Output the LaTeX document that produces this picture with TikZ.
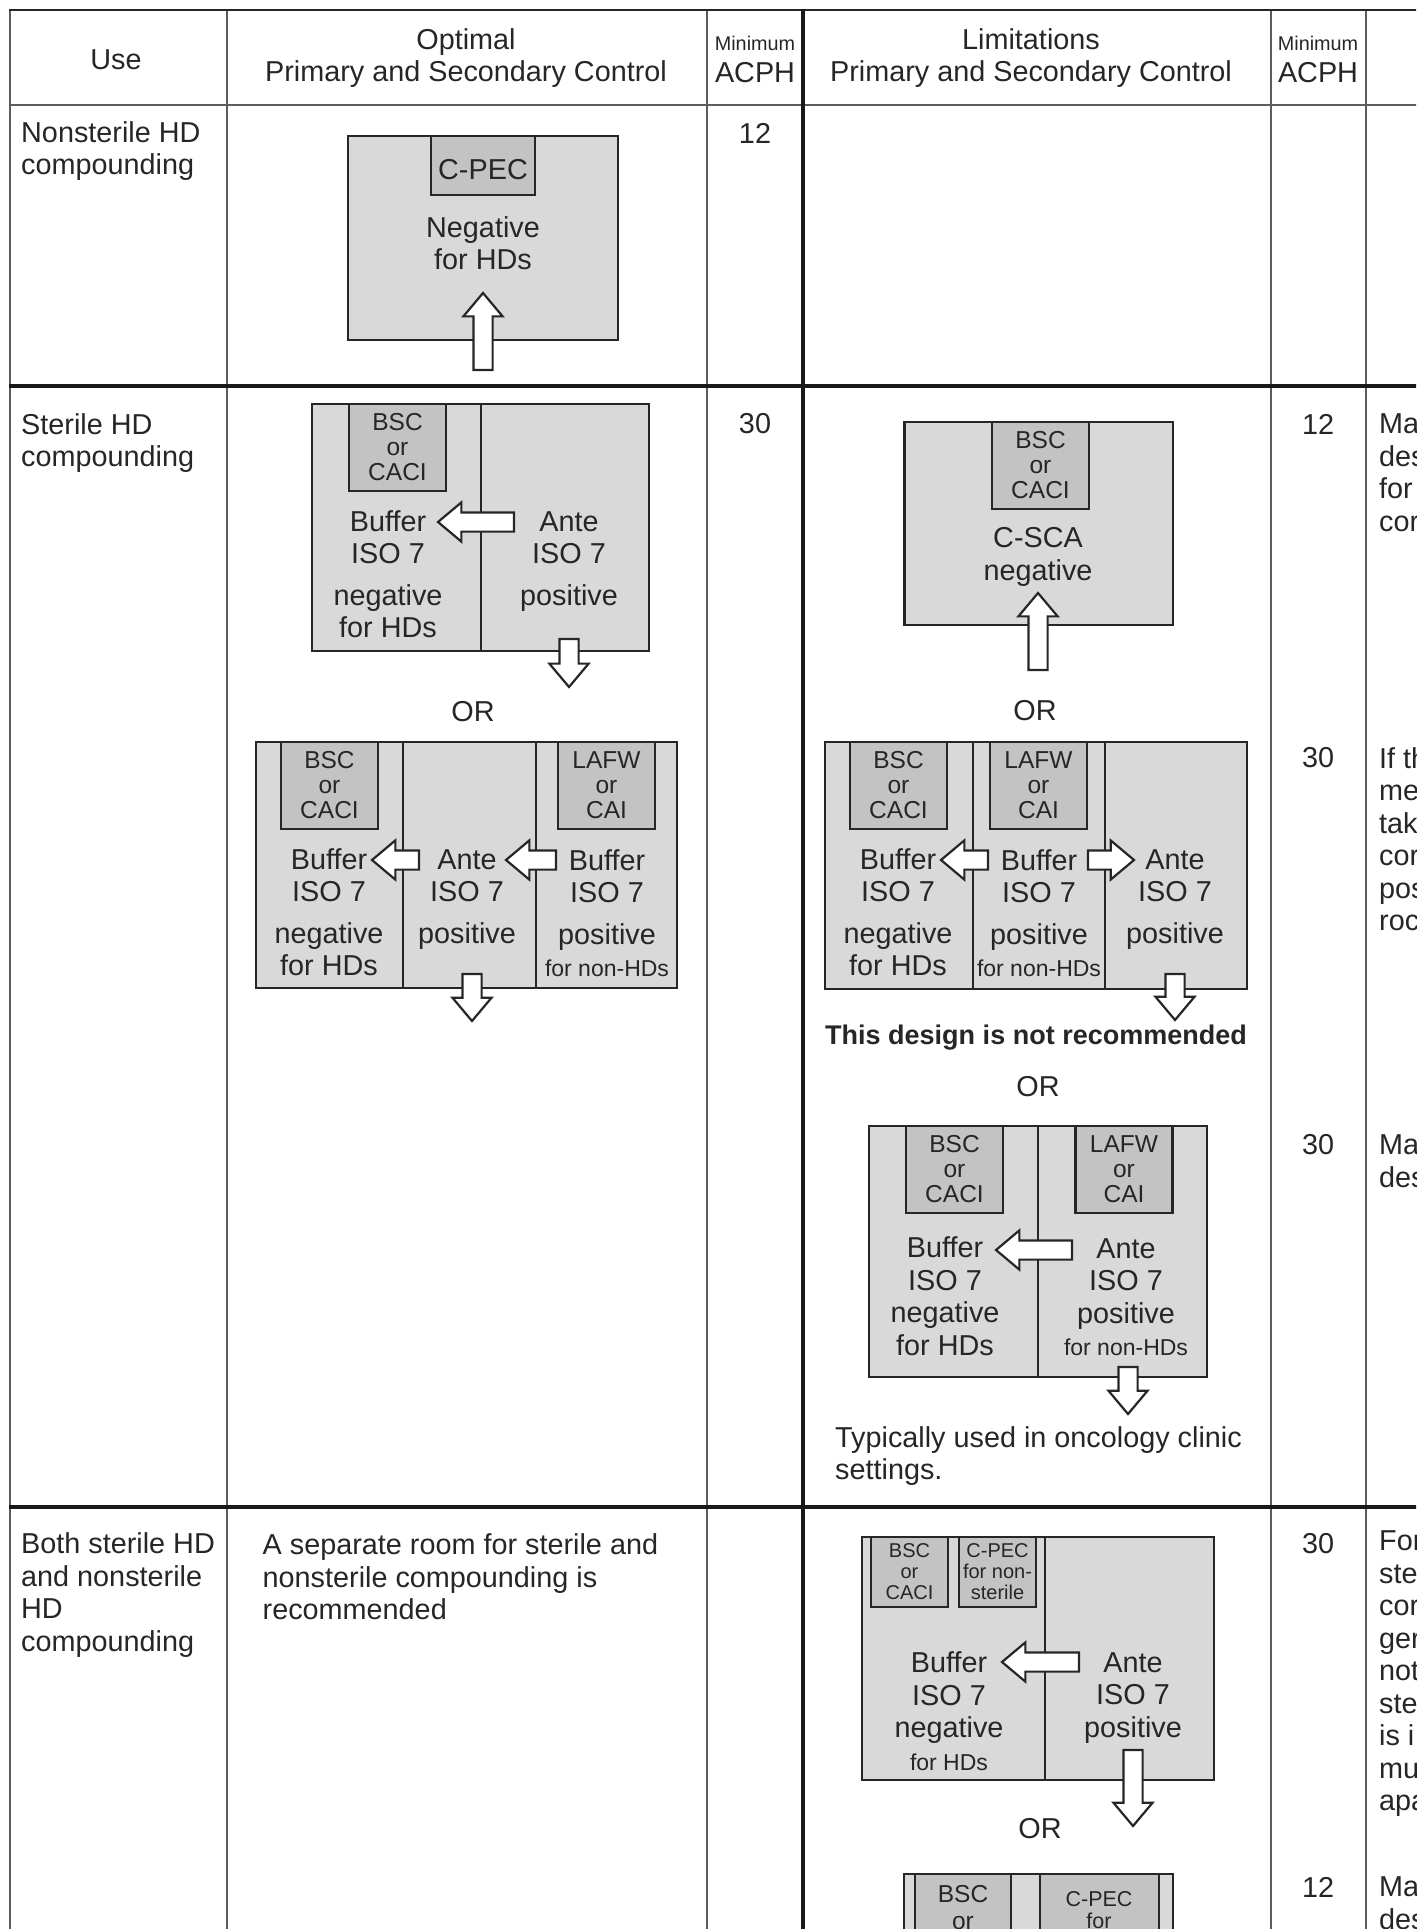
\documentclass[tikz,border=0pt]{standalone}
\usepackage{fontspec}
\setmainfont{Liberation Sans}
\usetikzlibrary{shapes.arrows}
\newcommand{\mainsize}{\fontsize{28.8}{32.5}\selectfont}
\newcommand{\forsize}[1]{{\fontsize{23}{32}\selectfont #1}}
\definecolor{ink}{HTML}{262626}
\definecolor{rule}{HTML}{5C5C5C}
\definecolor{roomfill}{HTML}{D9D9D9}
\definecolor{cabfill}{HTML}{C3C3C3}

\begin{document}
\begin{tikzpicture}[x=1pt, y=-1pt]
	\tikzstyle{room} = [draw=ink, fill=roomfill, line width=2.6pt, outer sep=0pt, inner sep=0pt, anchor=north west];
	\tikzstyle{cab} = [draw=ink, fill=cabfill, line width=2.6pt, outer sep=0pt, inner sep=0pt, anchor=north west, align=center, text=ink, minimum width=97pt, minimum height=87pt, font={\fontsize{24.5}{25}\selectfont}];
	\tikzstyle{wall} = [draw=ink, line width=2.4pt];
	\tikzstyle{flow} = [draw=ink, fill=white, line width=2.2pt, single arrow, single arrow tip angle=80, single arrow head extend=10pt, minimum width=37pt, inner xsep=0pt, inner ysep=8.5pt, outer sep=0pt, anchor=tail];
	\tikzstyle{txt} = [text=ink, align=center, inner sep=0pt, font={\mainsize}];
	\tikzstyle{cell} = [text=ink, align=left, anchor=west, inner sep=0pt, font={\mainsize}];
	\tikzstyle{minlabel} = [text=ink, inner sep=0pt, font={\fontsize{19.8}{24}\selectfont}];
	\tikzstyle{hair} = [draw=rule, line width=2pt];
	\tikzstyle{heavy} = [draw=black!90, line width=4.5pt];

	\useasboundingbox (0,0) rectangle (1416,1929);
	\clip (0,0) rectangle (1416,1929);

	% table rules
	\foreach \x in {9.5,227,707,1271,1366}
		\draw[hair] (\x,10) -- (\x,1935);
	\draw[hair] (9,105) -- (1420,105);
	\draw[draw=ink, line width=2pt] (9,10) -- (1420,10);
	\draw[heavy] (803,9) -- (803,1935);
	\draw[heavy] (9,386) -- (1420,386);
	\draw[heavy] (9,1507) -- (1420,1507);

	% header row
	\node[txt] (use) at (116,60) {Use};
	\node[txt] (optimal) at (466,58) {Optimal\\Primary and Secondary Control};
	\node[txt] (limits) at (1031,58) {Limitations\\Primary and Secondary Control};
	\foreach \nm/\xx in {one/755,two/1318} {
		\node[minlabel] (min\nm) at (\xx,43) {Minimum};
		\node[txt] (acph\nm) at (\xx,72.5) {ACPH};
	}

	% first and second column
	\node[cell] (nonsterile) at (21,151) {Nonsterile HD\\compounding};
	\node[cell] (sterile) at (21,443) {Sterile HD\\compounding};
	\node[cell] (both) at (21,1595) {Both sterile HD\\and nonsterile\\HD\\compounding};
	\node[cell] (separate) at (262.5,1577) {A separate room for sterile and\\nonsterile compounding is\\recommended};

	% air changes
	\foreach \nm/\xx/\yy/\val in {aa/755/133/12,ab/755/424/30,ba/1318/424/12,bb/1318/758/30,bc/1318/1145/30,bd/1318/1544/30,be/1318/1887/12}
		\node[txt] (ach\nm) at (\xx,\yy) {\val};

	% last column, cut off by the page edge
	\node[cell] (noteone) at (1379,472.5) {Ma\\des\\for\\cor};
	\node[cell] (notetwo) at (1379,839) {If th\\me\\tak\\cor\\pos\\roc};
	\node[cell] (notethree) at (1379,1161) {Ma\\des};
	\node[cell] (notefour) at (1379,1674) {For\\ste\\cor\\ger\\not\\ste\\is i\\mu\\apa};
	\node[cell] (notefive) at (1379,1903) {Ma\\des};

	% rooms
	\foreach \nm/\xx/\yy/\w/\h in {ra/348/136/270/204,rb/312/404/337/247,rc/256/742/421/246,rd/904.5/422/268.5/203,re/825/742/422/247,rf/869/1126/338/251,rg/862/1537/352/243,rh/904/1874/269/80}
		\node[room, minimum width=\w pt, minimum height=\h pt] (\nm) at (\xx,\yy) {};

	\foreach \xx/\ya/\yb in {481/404/651,403/742/988,536/742/988,973/742/989,1105/742/989,1038/1126/1377,1045/1537/1780}
		\draw[wall] (\xx,\ya) -- (\xx,\yb);

	% cabinets
	\node[cab, minimum width=104pt, minimum height=59pt] (cpeca) at (431,136) {};
	\node[txt] (cpectext) at (483,170) {C-PEC};
	\foreach \nm/\xx/\yy in {ca/349/404,cb/281/742,cc/992/422,cd/850/742,ce/906/1126}
		\node[cab] (\nm) at (\xx,\yy) {BSC\\or\\CACI};
	\foreach \nm/\xx/\yy in {la/558/742,lb/990/742,lc/1075.5/1126}
		\node[cab] (\nm) at (\xx,\yy) {LAFW\\or\\CAI};
	\node[cab, minimum width=77pt, minimum height=70pt, font={\fontsize{20}{21}\selectfont}] (cf) at (871,1537) {BSC\\or\\CACI};
	\node[cab, minimum width=77pt, minimum height=70pt, font={\fontsize{20}{21}\selectfont}] (cg) at (959,1537) {C-PEC\\for non-\\sterile};
	\node[cab, minimum width=96pt, minimum height=80pt] (ch) at (915,1874) {};
	\node[cab, minimum width=119pt, minimum height=80pt] (ci) at (1040,1874) {};
	\node[txt, font={\fontsize{24.5}{27}\selectfont}] (chtext) at (963,1908) {BSC\\or};
	\node[txt, font={\fontsize{21.5}{22}\selectfont}] (citext) at (1099,1910) {C-PEC\\for};

	% room labels
	\node[txt] (negative) at (483,243) {Negative\\for HDs};
	\node[txt] (buffa) at (388,574) {Buffer\\ISO 7\\[9pt]negative\\for HDs};
	\node[txt] (antea) at (569,561.5) {Ante\\ISO 7\\[9pt]positive};
	\node[txt] (buffb) at (329,912) {Buffer\\ISO 7\\[9pt]negative\\for HDs};
	\node[txt] (anteb) at (467,899.5) {Ante\\ISO 7\\[9pt]positive};
	\node[txt] (buffc) at (607,913) {Buffer\\ISO 7\\[9pt]positive\\\forsize{for non-HDs}};
	\node[txt] (csca) at (1038,557) {C-SCA\\negative};
	\node[txt] (buffd) at (898,912) {Buffer\\ISO 7\\[9pt]negative\\for HDs};
	\node[txt] (buffe) at (1039,913) {Buffer\\ISO 7\\[9pt]positive\\\forsize{for non-HDs}};
	\node[txt] (anted) at (1175,899.5) {Ante\\ISO 7\\[9pt]positive};
	\node[txt] (bufff) at (945,1296) {Buffer\\ISO 7\\negative\\for HDs};
	\node[txt] (antee) at (1126,1297) {Ante\\ISO 7\\positive\\\forsize{for non-HDs}};
	\node[txt] (buffg) at (949,1711) {Buffer\\ISO 7\\negative\\\forsize{for HDs}};
	\node[txt] (antef) at (1133,1698) {Ante\\ISO 7\\positive};

	% block arrows, placed by their tails
	\foreach \nm/\xx/\yy/\len/\ang in {fa/483/370/77/90,fb/514/522/76/180,fc/569/639/48/-90,fd/419/860/47/180,fe/556/860/50/180,ff/472/974/47/-90,fg/1038/670/77/90,fh/988/860/47/180,fi/1088/860/46/0,fj/1175/974/46/-90,fk/1072/1250/76/180,fl/1128/1367/47/-90,fm/1079/1662/77/180,fn/1133/1750/76/-90}
		\node[flow, minimum height=\len pt, rotate=\ang] (\nm) at (\xx,\yy) {};

	% captions
	\foreach \nm/\xx/\yy in {ora/473/712,orb/1035/711,orc/1038/1087,ord/1040/1829}
		\node[txt] (\nm) at (\xx,\yy) {OR};
	\node[txt, font={\bfseries\fontsize{27}{30}\selectfont}] (warning) at (1036,1038) {This design is not recommended};
	\node[cell] (typical) at (835,1456) {Typically used in oncology clinic\\settings.};
\end{tikzpicture}
\end{document}
